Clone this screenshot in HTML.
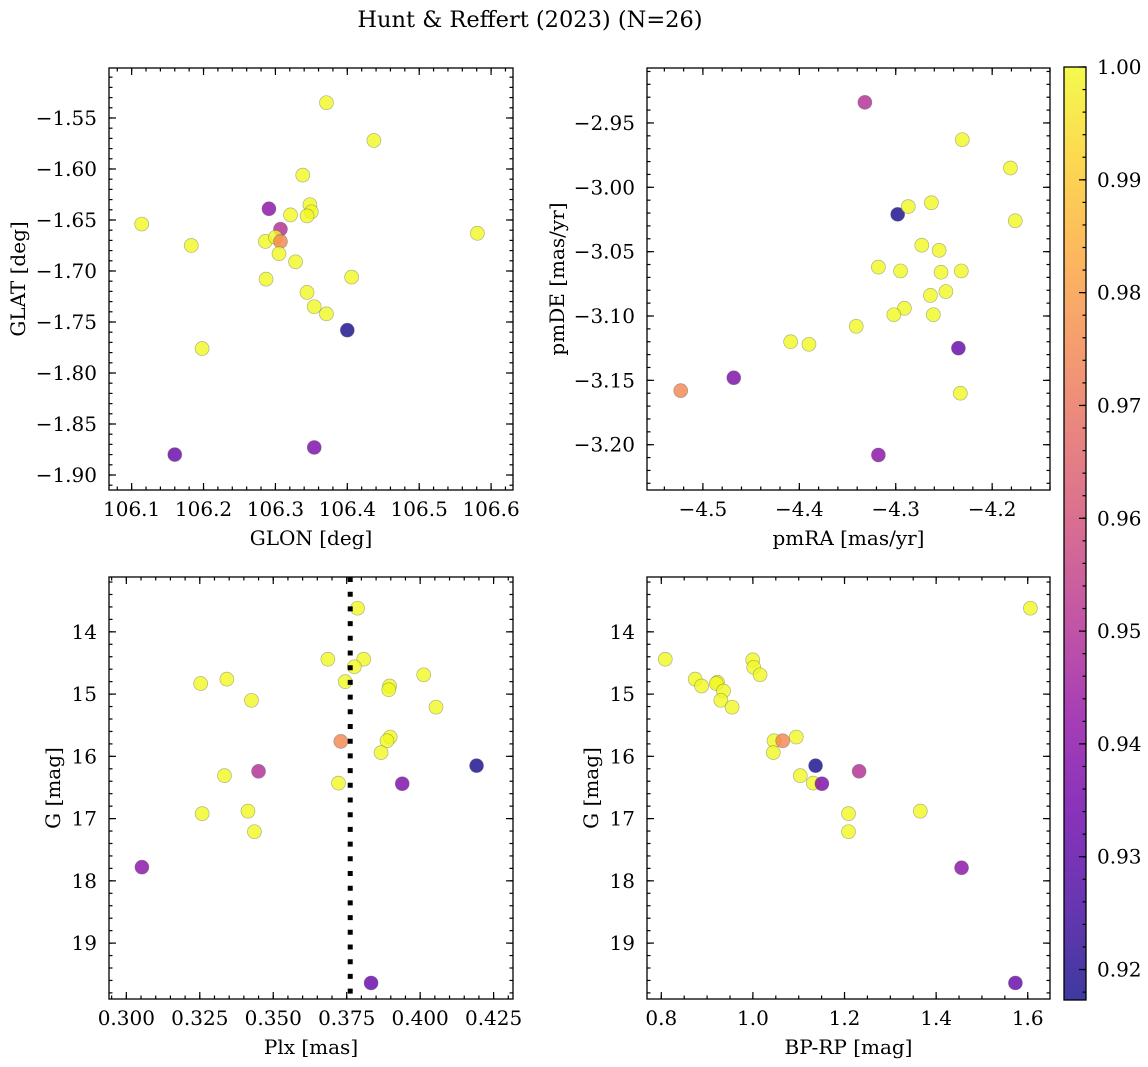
<!DOCTYPE html>
<html><head><meta charset="utf-8">
<style>
html,body{margin:0;padding:0;background:#fff;}
svg{display:block;font-family:"DejaVu Serif","Liberation Serif",serif;}
</style></head>
<body>
<svg id="chart" width="1148" height="1067" viewBox="0 0 1148 1067" xmlns="http://www.w3.org/2000/svg">
<defs>
<linearGradient id="plasmaGrad" x1="0" y1="1" x2="0" y2="0"></linearGradient>
</defs>
<text x="530" y="27" font-size="22.5" text-anchor="middle" fill="#000">Hunt &amp; Reffert (2023) (N=26)</text>
</svg>
<script>
// ---- data ----
const p1Lon=[106.371,106.437,106.338,106.291,106.321,106.348,106.350,106.344,106.114,106.183,106.307,106.286,106.300,106.307,106.305,106.328,106.581,106.287,106.406,106.344,106.354,106.371,106.400,106.198,106.160,106.354];
const p1Lat=[-1.535,-1.572,-1.606,-1.639,-1.645,-1.635,-1.642,-1.646,-1.654,-1.675,-1.659,-1.671,-1.667,-1.671,-1.683,-1.691,-1.663,-1.708,-1.706,-1.721,-1.735,-1.742,-1.758,-1.776,-1.880,-1.873];
const p1Prob=[1,1,1,0.940,1,1,1,1,1,1,0.950,1,1,0.975,1,1,1,1,1,1,1,1,0.918,1,0.932,0.937];

const p2Pmra=[-4.332,-4.231,-4.181,-4.176,-4.298,-4.287,-4.263,-4.273,-4.255,-4.318,-4.295,-4.253,-4.232,-4.248,-4.264,-4.291,-4.302,-4.261,-4.341,-4.409,-4.390,-4.235,-4.468,-4.523,-4.233,-4.318];
const p2Pmde=[-2.934,-2.963,-2.985,-3.026,-3.021,-3.015,-3.012,-3.045,-3.049,-3.062,-3.065,-3.066,-3.065,-3.081,-3.084,-3.094,-3.099,-3.099,-3.108,-3.120,-3.122,-3.125,-3.148,-3.158,-3.160,-3.208];
const p2Prob=[0.95,1,1,1,0.918,1,1,1,1,1,1,1,1,1,1,1,1,1,1,1,1,0.932,0.937,0.975,1,0.940];

const p3Plx=[0.3787,0.3686,0.3808,0.3776,0.4012,0.3745,0.3253,0.3342,0.3896,0.3893,0.4054,0.3426,0.3730,0.3898,0.3887,0.3867,0.4192,0.3450,0.3334,0.3722,0.3939,0.3258,0.3414,0.3436,0.3053,0.3833];
const p3G=[13.62,14.44,14.44,14.56,14.69,14.80,14.83,14.76,14.87,14.93,15.21,15.10,15.76,15.69,15.75,15.94,16.15,16.24,16.31,16.43,16.44,16.92,16.88,17.21,17.78,19.64];
const p3Prob=[1,1,1,1,1,1,1,1,1,1,1,1,0.975,1,1,1,0.918,0.95,1,1,0.937,1,1,1,0.940,0.932];
const plxRef=[0.3762];

const p4Bprp=[1.6058,0.8087,0.874,0.888,0.9227,0.920,0.9358,0.930,0.9546,0.9996,1.0018,1.0156,1.0461,1.065,1.0947,1.0446,1.1368,1.1034,1.1318,1.1506,1.2319,1.2087,1.2087,1.3655,1.4555,1.5731];
const p4G=[13.62,14.44,14.76,14.87,14.81,14.83,14.95,15.10,15.21,14.45,14.57,14.69,15.75,15.75,15.69,15.94,16.15,16.31,16.43,16.44,16.24,16.92,17.21,16.88,17.79,19.64];
const p4Prob=[1,1,1,1,1,1,1,1,1,1,1,1,1,0.975,1,1,0.918,1,1,0.937,0.95,1,1,1,0.940,0.932];

// tick values
const p1XTicks=[106.1,106.2,106.3,106.4,106.5,106.6];
const p1YTicks=[-1.55,-1.60,-1.65,-1.70,-1.75,-1.80,-1.85,-1.90];
const p2XTicks=[-4.5,-4.4,-4.3,-4.2];
const p2YTicks=[-2.95,-3.00,-3.05,-3.10,-3.15,-3.20];
const p3XTicks=[0.300,0.325,0.350,0.375,0.400,0.425];
const gTicks=[14,15,16,17,18,19];
const p4XTicks=[0.8,1.0,1.2,1.4,1.6];
const cbTicks=[0.92,0.93,0.94,0.95,0.96,0.97,0.98,0.99,1.00];
const cbMin=0.9173, cbMax=1.0;

// ---- helpers ----
const NS='http://www.w3.org/2000/svg';
const svg=document.getElementById('chart');
const FS=20;
function mk(tag,attrs,parent){const e=document.createElementNS(NS,tag);for(const k in attrs)e.setAttribute(k,attrs[k]);(parent||svg).appendChild(e);return e;}
const plasma=['#0d0887','#41049d','#6a00a8','#8f0da4','#b12a90','#cc4778','#e16462','#f2844b','#fca636','#fcce25','#f0f921'];
function hex(c){return [parseInt(c.slice(1,3),16),parseInt(c.slice(3,5),16),parseInt(c.slice(5,7),16)];}
function cmap(v){let t=(v-cbMin)/(cbMax-cbMin);t=Math.max(0,Math.min(1,t));const f=t*10,i=Math.min(9,Math.floor(f)),r=f-i;const a=hex(plasma[i]),b=hex(plasma[i+1]);return 'rgb('+a.map((x,k)=>Math.round(x+(b[k]-x)*r)).join(',')+')';}
function fmt(v,d){return v.toFixed(d).replace('-','\u2212');}

function panel(cfg){
  const g=mk('g',{});
  
  
  const [L,T,R,B]=cfg.box;
  const sx=v=>L+(v-cfg.xd[0])/(cfg.xd[1]-cfg.xd[0])*(R-L);
  const sy=cfg.yInv? (v=>T+(v-cfg.yd[0])/(cfg.yd[1]-cfg.yd[0])*(B-T)) : (v=>B-(v-cfg.yd[0])/(cfg.yd[1]-cfg.yd[0])*(B-T));
  const pts=mk('g',{},g);
  
  
  for(let i=0;i<cfg.xs.length;i++){
    const c=mk('circle',{cx:sx(cfg.xs[i]).toFixed(2),cy:sy(cfg.ys[i]).toFixed(2),r:7,fill:cmap(cfg.cs[i]),'fill-opacity':0.8,stroke:'rgba(90,90,90,0.45)','stroke-width':0.7},pts);
    
    
  }
  if(cfg.vline){
    const x=sx(cfg.vline[0]);
    const ln=mk('line',{x1:x,x2:x,y1:T,y2:B,stroke:'#000','stroke-width':5,'stroke-dasharray':'5,9.7'},g);
    
    
  }
  const tk=mk('g',{stroke:'#000','stroke-width':1.2},g);
  
  
  const xmin=Math.ceil(cfg.xd[0]/cfg.xm-1e-6)*cfg.xm;
  for(let v=xmin;v<=cfg.xd[1]+1e-9;v+=cfg.xm){const x=sx(v);mk('line',{x1:x,x2:x,y1:B,y2:B-3.5},tk);mk('line',{x1:x,x2:x,y1:T,y2:T+3.5},tk);}
  const y0=Math.min(cfg.yd[0],cfg.yd[1]),y1=Math.max(cfg.yd[0],cfg.yd[1]);
  const ymin=Math.ceil(y0/cfg.ym-1e-6)*cfg.ym;
  for(let v=ymin;v<=y1+1e-9;v+=cfg.ym){const y=sy(v);mk('line',{x1:L,x2:L+3.5,y1:y,y2:y},tk);mk('line',{x1:R,x2:R-3.5,y1:y,y2:y},tk);}
  cfg.xt.forEach(v=>{const x=sx(v);mk('line',{x1:x,x2:x,y1:B,y2:B-7},tk);mk('line',{x1:x,x2:x,y1:T,y2:T+7},tk);
    const t=mk('text',{x:x,y:B+26,'font-size':FS,'text-anchor':'middle',fill:'#000',stroke:'none'},g);t.textContent=fmt(v,cfg.xdp);
    
    });
  cfg.yt.forEach(v=>{const y=sy(v);mk('line',{x1:L,x2:L+7,y1:y,y2:y},tk);mk('line',{x1:R,x2:R-7,y1:y,y2:y},tk);
    const t=mk('text',{x:L-12,y:y+7,'font-size':FS,'text-anchor':'end',fill:'#000',stroke:'none'},g);t.textContent=fmt(v,cfg.ydp);
    
    });
  const fr=mk('rect',{x:L,y:T,width:R-L,height:B-T,fill:'none',stroke:'#000','stroke-width':1.3},g);
  
  
  const xl=mk('text',{x:(L+R)/2,y:B+55,'font-size':FS,'text-anchor':'middle',fill:'#000'},g);xl.textContent=cfg.xlab;
  
  
  const yl=mk('text',{x:0,y:0,'font-size':FS,'text-anchor':'middle',fill:'#000',transform:'translate('+cfg.ylx+','+((T+B)/2)+') rotate(-90)'},g);yl.textContent=cfg.ylab;
  
  
}

panel({name:'glon-glat-panel',box:[109,68,513,490],xd:[106.0685,106.6305],yd:[-1.9147,-1.501],xs:p1Lon,ys:p1Lat,cs:p1Prob,xt:p1XTicks,yt:p1YTicks,xm:0.02,ym:0.01,xdp:1,ydp:2,xlab:'GLON [deg]',ylab:'GLAT [deg]',ylx:25});
panel({name:'proper-motion-panel',box:[647,68,1050,490],xd:[-4.558,-4.140],yd:[-3.2352,-2.9073],xs:p2Pmra,ys:p2Pmde,cs:p2Prob,xt:p2XTicks,yt:p2YTicks,xm:0.02,ym:0.01,xdp:1,ydp:2,xlab:'pmRA [mas/yr]',ylab:'pmDE [mas/yr]',ylx:564});
panel({name:'parallax-mag-panel',box:[109,577,513,999],xd:[0.2941,0.4316],yd:[13.119,19.898],yInv:true,xs:p3Plx,ys:p3G,cs:p3Prob,xt:p3XTicks,yt:gTicks,xm:0.005,ym:0.2,xdp:3,ydp:0,xlab:'Plx [mas]',ylab:'G [mag]',ylx:60,vline:plxRef});
panel({name:'cmd-panel',box:[647,577,1050,999],xd:[0.7688,1.6486],yd:[13.119,19.898],yInv:true,xs:p4Bprp,ys:p4G,cs:p4Prob,xt:p4XTicks,yt:gTicks,xm:0.05,ym:0.2,xdp:1,ydp:0,xlab:'BP-RP [mag]',ylab:'G [mag]',ylx:598});

// colorbar
const grad=document.getElementById('plasmaGrad');
plasma.forEach((c,i)=>mk('stop',{offset:(i/10),'stop-color':c},grad));
const cb=mk('g',{});


const cT=67,cB=1000,cL=1064,cR=1086;
const cy=v=>cB-(v-cbMin)/(cbMax-cbMin)*(cB-cT);
mk('rect',{x:cL,y:cT,width:cR-cL,height:cB-cT,fill:'url(#plasmaGrad)','fill-opacity':0.8},cb);
for(let v=0.918;v<=1.0001;v+=0.002){const y=cy(v);mk('line',{x1:cR,x2:cR-3.5,y1:y,y2:y,stroke:'#000','stroke-width':1.2},cb);}
cbTicks.forEach(v=>{const y=cy(v);mk('line',{x1:cR,x2:cR-7,y1:y,y2:y,stroke:'#000','stroke-width':1.2},cb);
  const t=mk('text',{x:1097,y:y+7,'font-size':FS,fill:'#000'},cb);t.textContent=v.toFixed(2);
  
  });
mk('rect',{x:cL,y:cT,width:cR-cL,height:cB-cT,fill:'none',stroke:'#000','stroke-width':1.3},cb);
</script>
</body></html>
